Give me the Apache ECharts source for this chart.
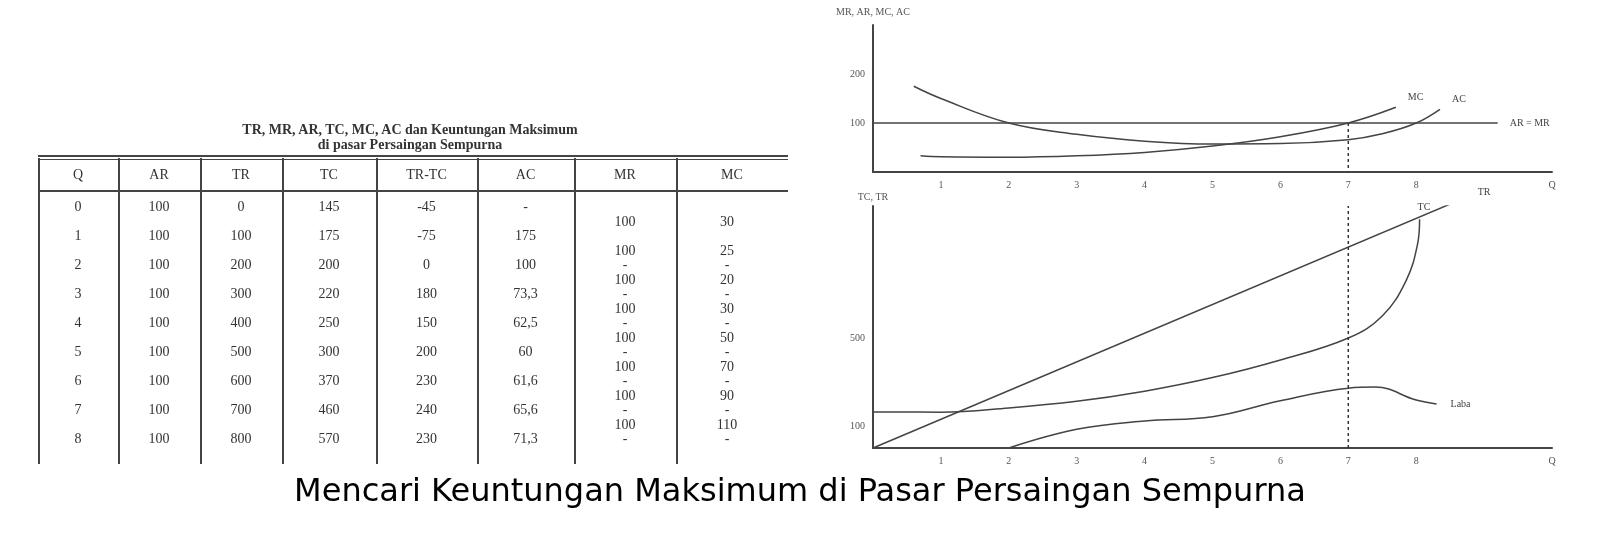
<!DOCTYPE html>
<html><head><meta charset="utf-8">
<script src="https://cdn.jsdelivr.net/npm/echarts@6/dist/echarts.min.js"></script>
<style>
body{margin:0;background:#fff;}
#chart{position:absolute;left:0;top:0;width:1600px;height:554px;}
#tbl{position:absolute;left:0;top:0;width:800px;height:470px;font-family:"Liberation Serif",serif;color:#333;}
.c{position:absolute;font-size:14px;text-align:center;transform:translate(-50%,-50%);white-space:nowrap;}
.vl{position:absolute;width:2px;background:#444;}
.hl{position:absolute;left:38px;width:750px;background:#444;}
</style></head><body>
<div id="chart"></div>
<div id="tbl"></div>
<script>
// tabel
var headers = ['Q', 'AR', 'TR', 'TC', 'TR-TC', 'AC', 'MR', 'MC'];
var qVals = ['0', '1', '2', '3', '4', '5', '6', '7', '8'];
var arVals = ['100', '100', '100', '100', '100', '100', '100', '100', '100'];
var trVals = ['0', '100', '200', '300', '400', '500', '600', '700', '800'];
var tcVals = ['145', '175', '200', '220', '250', '300', '370', '460', '570'];
var profitVals = ['-45', '-75', '0', '180', '150', '200', '230', '240', '230'];
var acVals = ['-', '175', '100', '73,3', '62,5', '60', '61,6', '65,6', '71,3'];
var mrVals = ['100', '100', '100', '100', '100', '100', '100', '100'];
var mcVals = ['30', '25', '20', '30', '50', '70', '90', '110'];

// grafik
var acCurve = [[0.6, 175], [1, 150], [2, 100], [3, 77], [4, 63], [5, 57], [6, 58], [7, 66], [7.5, 78], [8, 100], [8.35, 128]];
var mcCurve = [[0.7, 33], [1, 31], [2, 30], [3, 33], [4, 40], [5, 53], [6, 72], [7, 100], [7.7, 132]];
var arMr = [[0, 100], [9.2, 100]];
var trLine = [[0, 0], [8.7, 1135]];
var tcCurve = [[0, 164], [1, 163], [2, 182], [3, 212], [4, 258], [5, 320], [6, 400], [7, 500], [7.5, 600], [7.85, 760], [8.02, 927], [8.05, 1040]];
var labaCurve = [[2, 0], [3, 85], [4, 123], [5, 142], [6, 215], [7, 272], [7.4, 277], [8, 218], [8.3, 200]];
var qTicks = ['1', '2', '3', '4', '5', '6', '7', '8'];

var tbl = document.getElementById('tbl');
function add(cls, css, txt) {
  var d = document.createElement('div');
  d.className = cls; d.style.cssText = css;
  if (txt !== undefined) d.textContent = txt;
  tbl.appendChild(d);
}
var colX = [38, 118, 200, 282, 376, 477, 574, 676, 788];
add('c', 'left:410px;top:130px;font-weight:bold;font-size:14px;', 'TR, MR, AR, TC, MC, AC dan Keuntungan Maksimum');
add('c', 'left:410px;top:145px;font-weight:bold;font-size:14px;', 'di pasar Persaingan Sempurna');
add('hl', 'top:155px;height:2px;');
add('hl', 'top:159px;height:1px;');
add('hl', 'top:190px;height:2px;');
for (var k = 0; k < 8; k++) add('vl', 'left:' + colX[k] + 'px;top:158px;height:306px;');
headers.forEach(function (h, i) {
  add('c', 'left:' + ((colX[i] + colX[i + 1]) / 2) + 'px;top:175px;', h);
});
var cols = [qVals, arVals, trVals, tcVals, profitVals, acVals];
for (var r = 0; r < 9; r++) {
  var y = 207 + 29 * r;
  cols.forEach(function (col, i) {
    add('c', 'left:' + ((colX[i] + colX[i + 1]) / 2) + 'px;top:' + y + 'px;', col[r]);
  });
  if (r >= 2) {
    add('c', 'left:625px;top:' + y + 'px;', '-');
    add('c', 'left:727px;top:' + y + 'px;', '-');
  }
  if (r < 8) {
    add('c', 'left:625px;top:' + (y + 15) + 'px;', mrVals[r]);
    add('c', 'left:727px;top:' + (y + 15) + 'px;', mcVals[r]);
  }
}

var chart = echarts.init(document.getElementById('chart'));
var axisTxt = { fontFamily: 'Liberation Serif', fontSize: 10, color: '#555' };
var lineSt = { color: '#444', width: 1.5 };
function xAx(gi) {
  return {
    type: 'value', gridIndex: gi, min: 0, max: 10, interval: 1,
    axisLine: { lineStyle: { color: '#444', width: 2 } },
    axisTick: { show: false }, splitLine: { show: false },
    axisLabel: Object.assign({ formatter: function (v) { return v >= 1 && v <= 8 ? qTicks[v - 1] : (v === 10 ? 'Q' : ''); }, margin: 8 }, axisTxt)
  };
}
function curve(data, xi, extra) {
  return Object.assign({
    type: 'line', xAxisIndex: xi, yAxisIndex: xi, data: data, smooth: 0.4,
    symbol: 'none', lineStyle: lineSt, silent: true
  }, extra || {});
}
function endLabel(txt, dx, dy) {
  return { show: true, formatter: txt, offset: [dx, dy], fontFamily: 'Liberation Serif', fontSize: 10, color: '#444' };
}
chart.setOption({
  animation: false,
  title: {
    text: 'Mencari Keuntungan Maksimum di Pasar Persaingan Sempurna',
    left: 'center', top: 472,
    textStyle: { fontFamily: 'DejaVu Sans', fontSize: 32, fontWeight: 'normal', color: '#000' }
  },
  grid: [
    { left: 873, top: 25, width: 679, height: 147 },
    { left: 873, top: 206, width: 679, height: 242 }
  ],
  xAxis: [xAx(0), xAx(1)],
  yAxis: [
    { type: 'value', gridIndex: 0, min: 0, max: 300, interval: 100,
      name: 'MR, AR, MC, AC', nameLocation: 'end', nameGap: 8,
      nameTextStyle: Object.assign({ align: 'center' }, axisTxt),
      axisLine: { show: true, lineStyle: { color: '#444', width: 2 } }, axisTick: { show: false },
      splitLine: { show: false },
      axisLabel: Object.assign({ formatter: function (v) { return v === 100 || v === 200 ? v : ''; } }, axisTxt) },
    { type: 'value', gridIndex: 1, min: 0, max: 1100, interval: 100,
      name: 'TC, TR', nameLocation: 'end', nameGap: 4,
      nameTextStyle: Object.assign({ align: 'center' }, axisTxt),
      axisLine: { show: true, lineStyle: { color: '#444', width: 2 } }, axisTick: { show: false },
      splitLine: { show: false },
      axisLabel: Object.assign({ formatter: function (v) { return v === 100 || v === 500 ? v : ''; } }, axisTxt) }
  ],
  series: [
    curve(arMr, 0, { smooth: false, endLabel: endLabel('AR = MR', 4, 0) }),
    curve(acCurve, 0, { endLabel: endLabel('AC', 4, -10) }),
    curve(mcCurve, 0, { endLabel: endLabel('MC', 4, -10) }),
    curve(trLine, 1, { smooth: false, endLabel: endLabel('TR', 6, -6) }),
    curve(tcCurve, 1, { endLabel: endLabel('TC', -10, -12) }),
    curve(labaCurve, 1, { endLabel: endLabel('Laba', 6, 0) }),
    curve([[7, 0], [7, 1100]], 1, { smooth: false, lineStyle: { color: '#333', width: 1.5, type: [3, 3] } }),
    curve([[7, 100], [7, 0]], 0, { smooth: false, lineStyle: { color: '#333', width: 1.5, type: [3, 3] } })
  ]
});
</script>
</body></html>
